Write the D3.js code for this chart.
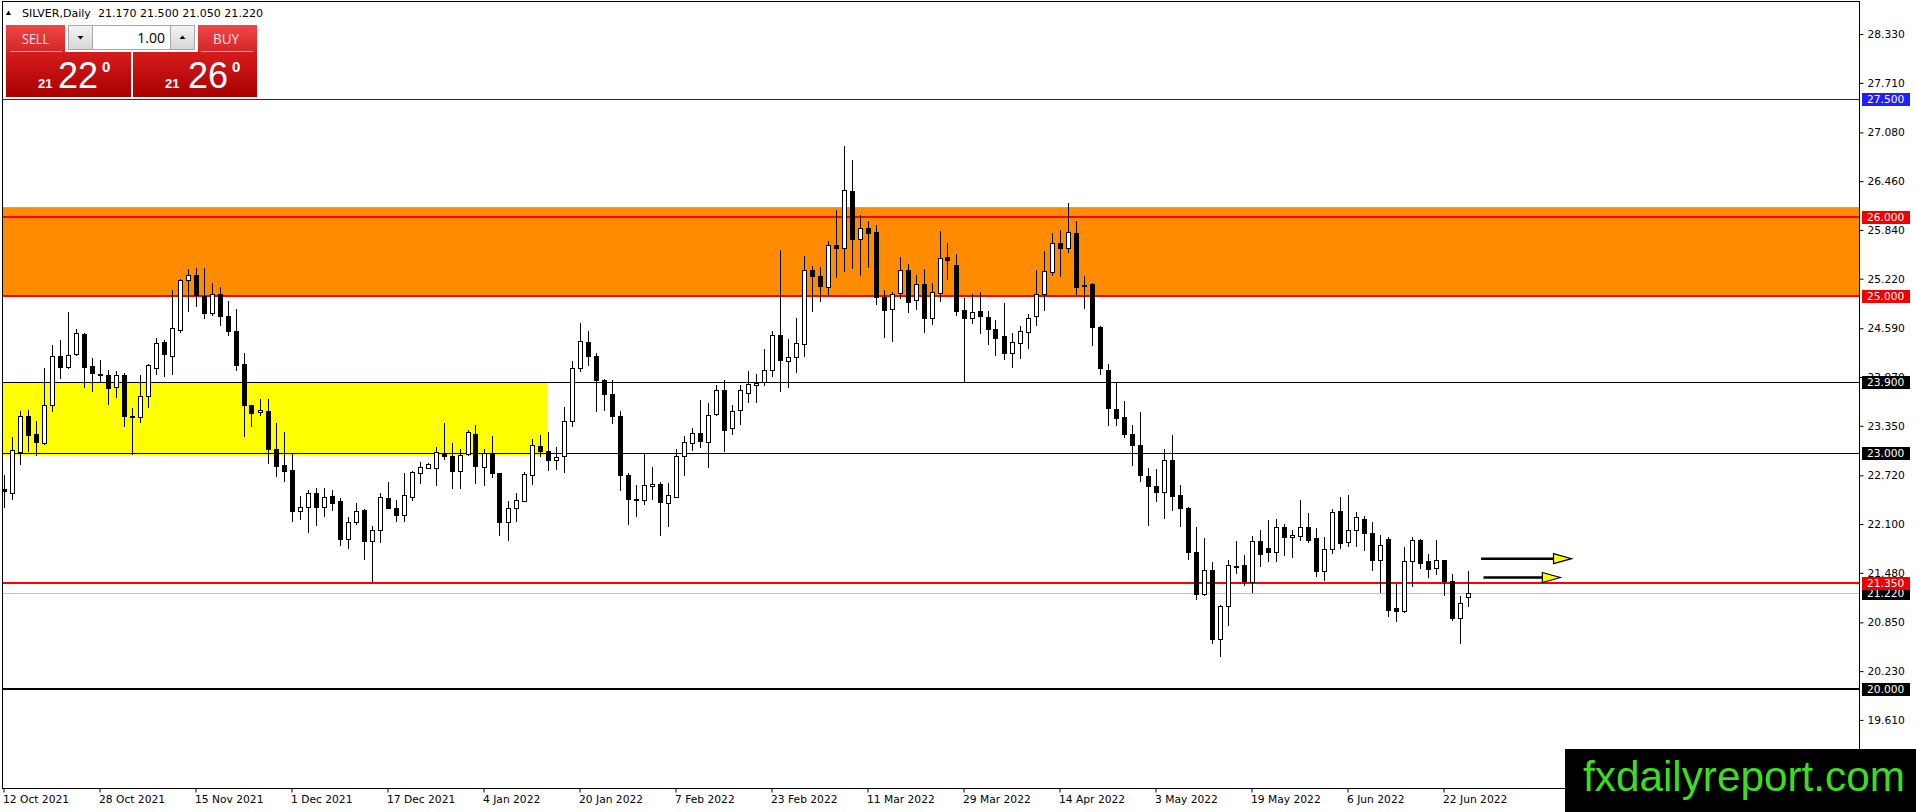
<!DOCTYPE html>
<html><head><meta charset="utf-8">
<script src="https://cdn.jsdelivr.net/npm/d3@7/dist/d3.min.js"></script>
<style>
html,body{margin:0;padding:0;background:#fff;overflow:hidden}
svg{display:block}
</style></head>
<body>
<svg id="c" width="1916" height="812"></svg>
<script>
// ---- data ----
const opens  = [22.55,22.50,23.02,23.47,23.25,23.13,23.61,24.24,24.10,24.26,24.52,24.11,24.01,24.00,23.84,23.99,23.47,23.46,23.73,24.09,24.41,24.24,24.57,25.20,25.27,25.00,24.78,25.02,24.75,24.56,24.13,23.61,23.52,23.54,23.06,22.85,22.79,22.26,22.32,22.49,22.32,22.46,22.39,21.91,22.12,22.28,21.88,22.02,22.43,22.30,22.22,22.45,22.75,22.81,22.81,23.00,22.97,22.78,22.99,23.25,22.83,23.00,22.75,22.13,22.30,22.39,22.72,23.09,23.03,22.91,22.97,23.41,24.08,24.42,24.24,23.93,23.75,23.47,22.72,22.42,22.41,22.58,22.61,22.37,22.45,22.96,23.13,23.26,23.14,23.50,23.80,23.32,23.55,23.77,23.87,23.90,24.06,24.50,24.17,24.23,24.39,25.33,25.25,25.12,25.65,25.61,26.34,25.73,25.86,25.81,24.99,24.83,25.04,25.33,24.95,25.15,24.72,25.04,25.49,25.39,24.82,24.72,24.81,24.73,24.58,24.49,24.28,24.40,24.54,24.75,25.03,25.30,25.68,25.61,25.80,25.14,25.15,24.61,24.06,23.56,23.46,23.24,23.11,22.71,22.59,22.51,22.92,22.47,22.30,21.75,21.21,21.52,20.64,21.06,21.57,21.58,21.36,21.89,21.80,21.74,22.06,21.93,21.95,22.06,21.92,21.50,21.78,22.27,21.87,22.03,22.17,21.99,21.64,21.91,21.03,20.99,21.63,21.90,21.63,21.54,21.64,21.38,20.90,21.17];
const highs  = [22.72,23.21,23.54,23.55,23.41,24.09,24.38,24.44,24.79,24.58,24.53,24.21,24.19,24.06,24.05,24.02,23.57,23.99,24.13,24.46,24.44,25.08,25.22,25.34,25.36,25.35,25.17,25.12,24.94,24.84,24.27,23.62,23.69,23.69,23.39,23.27,23.00,22.46,22.53,22.56,22.56,22.53,22.43,22.19,22.37,22.29,22.07,22.49,22.64,22.41,22.75,22.78,22.89,22.88,23.08,23.39,23.13,23.06,23.30,23.36,23.06,23.22,22.75,22.39,22.50,22.76,23.18,23.23,23.27,23.08,23.59,24.17,24.66,24.55,24.28,23.94,23.93,23.54,22.75,22.60,22.99,22.82,22.63,22.62,23.06,23.22,23.32,23.68,23.64,23.87,23.93,23.61,23.87,24.05,24.01,24.33,24.56,25.58,24.45,24.72,25.51,25.38,25.37,25.70,26.09,26.91,26.73,26.03,25.95,25.90,25.08,25.05,25.50,25.41,25.27,25.34,25.17,25.82,25.67,25.54,24.97,25.03,25.05,24.81,24.70,24.91,24.53,24.62,24.77,25.33,25.57,25.80,25.84,26.18,25.95,25.25,25.16,24.62,24.14,23.89,23.66,23.36,23.53,22.81,22.80,23.05,23.23,22.60,22.32,22.06,21.92,21.62,21.07,21.64,21.88,21.71,21.95,22.03,22.15,22.17,22.10,22.02,22.41,22.24,22.05,21.93,22.29,22.44,22.47,22.25,22.20,22.12,21.96,21.94,21.34,21.81,21.93,21.91,21.72,21.90,21.64,21.46,21.19,21.50];
const lows   = [22.30,22.41,22.85,23.02,22.96,23.11,23.52,23.95,24.07,24.24,23.83,23.78,23.91,23.61,23.70,23.33,22.98,23.39,23.57,23.99,23.97,23.99,24.53,24.79,24.86,24.71,24.75,24.62,24.49,24.05,23.21,23.34,23.47,22.86,22.70,22.63,22.13,22.15,21.98,22.07,22.19,22.26,21.82,21.78,22.09,21.64,21.36,21.86,22.29,22.13,22.12,22.39,22.61,22.80,22.59,22.91,22.54,22.54,22.96,22.61,22.59,22.68,21.95,21.89,22.13,22.38,22.60,22.95,22.77,22.79,22.75,23.33,24.03,24.11,23.52,23.54,23.37,22.52,22.09,22.19,22.34,22.41,21.95,22.06,22.45,22.71,23.03,23.07,22.81,23.47,23.02,23.23,23.36,23.64,23.64,23.85,23.97,23.78,23.83,24.02,24.23,24.80,24.92,25.01,25.23,25.30,25.34,25.26,25.36,24.88,24.47,24.41,24.96,24.78,24.82,24.53,24.63,24.92,25.20,24.74,23.91,24.65,24.52,24.38,24.24,24.18,24.08,24.20,24.32,24.62,24.81,25.25,25.24,25.55,25.01,24.84,24.37,24.00,23.35,23.35,23.19,22.84,22.63,22.07,22.38,22.16,22.27,22.06,21.64,21.13,21.19,20.58,20.41,20.80,21.47,21.31,21.22,21.56,21.62,21.62,21.69,21.67,21.88,21.86,21.43,21.38,21.72,21.78,21.81,21.81,21.76,21.50,21.22,20.92,20.85,20.97,21.30,21.53,21.42,21.45,21.19,20.87,20.57,21.05];
const closes = [22.52,23.04,23.47,23.23,23.14,23.61,24.24,24.10,24.25,24.53,24.10,24.02,24.00,23.83,23.99,23.47,23.46,23.73,24.12,24.40,24.26,24.59,25.20,25.27,25.01,24.78,25.03,24.74,24.56,24.12,23.61,23.51,23.55,23.06,22.84,22.78,22.27,22.32,22.49,22.32,22.44,22.37,21.91,22.13,22.27,21.88,22.03,22.44,22.30,22.21,22.47,22.76,22.82,22.87,23.01,22.96,22.78,22.98,23.27,22.84,23.00,22.75,22.13,22.31,22.41,22.74,23.10,23.03,22.91,22.95,23.41,24.08,24.43,24.24,23.93,23.75,23.47,22.72,22.42,22.41,22.60,22.61,22.38,22.47,22.97,23.14,23.26,23.15,23.49,23.80,23.30,23.54,23.80,23.88,23.89,24.06,24.50,24.19,24.22,24.40,25.33,25.25,25.13,25.65,25.61,26.35,25.72,25.86,25.80,24.99,24.82,25.03,25.33,24.92,25.15,24.72,25.05,25.48,25.46,24.81,24.72,24.80,24.74,24.58,24.47,24.27,24.41,24.55,24.72,25.03,25.32,25.68,25.61,25.81,25.12,25.13,24.60,24.08,23.57,23.45,23.25,23.10,22.72,22.59,22.51,22.92,22.46,22.30,21.74,21.21,21.52,20.64,21.06,21.58,21.56,21.37,21.88,21.72,21.74,22.06,21.93,21.96,22.06,21.90,21.50,21.78,22.25,21.86,22.03,22.19,21.99,21.64,21.84,21.01,21.00,21.63,21.90,21.61,21.53,21.64,21.37,20.90,21.09,21.22];

const dateTickIdx = [0,12,24,36,48,60,72,84,96,108,120,132,144,156,168,180];
const dateLabels  = ["12 Oct 2021","28 Oct 2021","15 Nov 2021","1 Dec 2021","17 Dec 2021","4 Jan 2022","20 Jan 2022","7 Feb 2022","23 Feb 2022","11 Mar 2022","29 Mar 2022","14 Apr 2022","3 May 2022","19 May 2022","6 Jun 2022","22 Jun 2022"];
const priceTicks  = [28.33,27.71,27.08,26.46,25.84,25.22,24.59,23.97,23.35,22.72,22.10,21.48,20.85,20.23,19.61];

// horizontal levels
const levelValues = [27.5, 26.0, 25.0, 23.9, 23.0, 21.22, 21.35, 20.0];
const levelColors = ["#1c1c9c","#ff0000","#ff0000","#000000","#000000","#c0c0c0","#ff0000","#000000"];
const levelWidths = [1, 2, 2, 1, 1, 1, 2, 2];
const levelBoxes  = ["#1f1fff","#f00000","#f00000","#000000","#000000","#000000","#f00000","#000000"];
// zones
const zoneLow  = [25.0, 22.97];
const zoneHigh = [26.13, 23.9];
const zoneEnd  = [232, 68.0];      // bar index where the zone ends
const zoneColors = ["#ff8c00","#ffff00"];
// arrows (bar index start/end, price)
const arrowStart = [184.7, 185.0];
const arrowEnd   = [196.0, 194.6];
const arrowPrice = [21.66, 21.42];

const header = "SILVER,Daily  21.170 21.500 21.050 21.220";

// ---- layout ----
const W = 1916, H = 812;
const plotL = 2, plotR = 1859, plotT = 2, plotB = 788;
const svg = d3.select("#c");
const FONT = "'DejaVu Sans', Verdana, sans-serif";

const x = d3.scaleLinear().domain([0, 232]).range([3.5, 3.5 + 8 * 232]);
const y = d3.scaleLinear().domain([18.744, 28.738]).range([plotB, plotT]);

svg.append("rect").attr("width", W).attr("height", H).attr("fill", "#fff");

svg.append("defs").append("clipPath").attr("id", "plotClip")
  .append("rect").attr("x", plotL + 0.5).attr("y", plotT).attr("width", plotR - plotL - 0.5).attr("height", plotB - plotT);

const plot = svg.append("g").attr("clip-path", "url(#plotClip)");

// zones
zoneLow.forEach((lo, i) => {
  plot.append("rect")
    .attr("x", plotL).attr("width", x(zoneEnd[i]) - plotL)
    .attr("y", y(zoneHigh[i])).attr("height", y(lo) - y(zoneHigh[i]))
    .attr("fill", zoneColors[i]);
});

// level lines
levelValues.forEach((v, i) => {
  const yy = levelWidths[i] === 1 ? Math.round(y(v)) + 0.5 : Math.round(y(v));
  plot.append("line").attr("x1", plotL).attr("x2", plotR).attr("y1", yy).attr("y2", yy)
    .attr("stroke", levelColors[i]).attr("stroke-width", levelWidths[i]);
});

// candles
const idx = d3.range(opens.length);
const cg = plot.append("g");
idx.forEach(k => {
  const cx = Math.round(x(k)) + 0.5;
  const o = opens[k], c = closes[k];
  cg.append("line").attr("x1", cx).attr("x2", cx)
    .attr("y1", Math.round(y(highs[k]))).attr("y2", Math.round(y(lows[k])))
    .attr("stroke", "#000").attr("stroke-width", 1);
  const top = Math.round(y(Math.max(o, c))), bot = Math.round(y(Math.min(o, c)));
  if (bot - top < 1) {
    cg.append("line").attr("x1", cx - 2.5).attr("x2", cx + 2.5)
      .attr("y1", top + 0.5).attr("y2", top + 0.5).attr("stroke", "#000");
  } else {
    cg.append("rect").attr("x", cx - 2).attr("width", 4)
      .attr("y", top + 0.5).attr("height", bot - top)
      .attr("fill", c >= o ? "#fff" : "#000").attr("stroke", "#000").attr("stroke-width", 1);
  }
});

// arrows
arrowPrice.forEach((p, i) => {
  const yy = y(p), x0 = x(arrowStart[i]), x1 = x(arrowEnd[i]);
  const headL = 18;
  plot.append("line").attr("x1", x0).attr("x2", x1 - headL + 1).attr("y1", yy).attr("y2", yy)
    .attr("stroke", "#000").attr("stroke-width", 2.5);
  plot.append("path")
    .attr("d", `M${x1 - headL},${yy - 5} L${x1},${yy} L${x1 - headL},${yy + 5} Z`)
    .attr("fill", "#ffff00").attr("stroke", "#000").attr("stroke-width", 1.2);
});

// frame
svg.append("rect").attr("x", plotL + 0.5).attr("y", plotT - 0.5).attr("width", plotR - plotL).attr("height", plotB - plotT + 1)
  .attr("fill", "none").attr("stroke", "#000").attr("stroke-width", 1);

// price axis
const yAxis = d3.axisRight(y).tickValues(priceTicks).tickFormat(d3.format(".3f")).tickSize(4).tickPadding(4);
const ya = svg.append("g").attr("transform", `translate(${plotR + 0.5},0)`).call(yAxis);
ya.select(".domain").remove();
ya.selectAll("text").attr("font-family", FONT).attr("font-size", "10.7px").attr("fill", "#000");
ya.selectAll("line").attr("stroke", "#000");

// date axis
const xAxis = d3.axisBottom(x).tickValues(dateTickIdx).tickFormat((d, i) => dateLabels[i]).tickSize(4).tickPadding(3);
const xa = svg.append("g").attr("transform", `translate(0,${plotB + 0.5})`).call(xAxis);
xa.select(".domain").remove();
xa.selectAll("text").attr("font-family", FONT).attr("font-size", "10.7px").attr("fill", "#000")
  .attr("text-anchor", "start").attr("dx", "-1");
xa.selectAll("line").attr("stroke", "#000");

// level labels on price axis
levelValues.forEach((v, i) => {
  const yy = y(v);
  const g = svg.append("g");
  g.append("rect").attr("x", plotR + 3).attr("y", Math.round(yy) - 6).attr("width", 48).attr("height", 13)
    .attr("fill", levelBoxes[i]);
  g.append("text").attr("x", plotR + 8).attr("y", Math.round(yy) + 4)
    .attr("font-family", FONT).attr("font-size", "10.7px").attr("fill", "#fff")
    .text(d3.format(".3f")(v));
});

// header
svg.append("path").attr("d", "M6,15 L11,15 L8.5,10.5 Z").attr("fill", "#000");
svg.append("text").attr("x", 22).attr("y", 17).attr("font-family", FONT).attr("font-size", "11px")
  .attr("textLength", 241).attr("lengthAdjust", "spacingAndGlyphs").attr("fill", "#000")
  .attr("xml:space", "preserve").style("white-space", "pre").text(header);

// one-click trading panel
const defs = svg.select("defs");
const g1 = defs.append("linearGradient").attr("id", "btnG").attr("x1", 0).attr("y1", 0).attr("x2", 0).attr("y2", 1);
g1.append("stop").attr("offset", 0).attr("stop-color", "#ee4646");
g1.append("stop").attr("offset", 1).attr("stop-color", "#d42626");
const g2 = defs.append("linearGradient").attr("id", "pxG").attr("x1", 0).attr("y1", 0).attr("x2", 0).attr("y2", 1);
g2.append("stop").attr("offset", 0).attr("stop-color", "#d61c1c");
g2.append("stop").attr("offset", 1).attr("stop-color", "#a80000");
const g3 = defs.append("linearGradient").attr("id", "grG").attr("x1", 0).attr("y1", 0).attr("x2", 0).attr("y2", 1);
g3.append("stop").attr("offset", 0).attr("stop-color", "#f4f4f4");
g3.append("stop").attr("offset", 1).attr("stop-color", "#d6d6d6");

const panel = svg.append("g");
// top buttons
panel.append("rect").attr("x", 6).attr("y", 25).attr("width", 59).attr("height", 27).attr("fill", "url(#btnG)");
panel.append("rect").attr("x", 198).attr("y", 25).attr("width", 59).attr("height", 27).attr("fill", "url(#btnG)");
panel.append("line").attr("x1", 10).attr("x2", 62).attr("y1", 51.5).attr("y2", 51.5).attr("stroke", "#f3a6a6");
panel.append("line").attr("x1", 201).attr("x2", 253).attr("y1", 51.5).attr("y2", 51.5).attr("stroke", "#f3a6a6");
panel.append("text").attr("x", 22).attr("y", 44).attr("font-family", "'Open Sans', 'DejaVu Sans', sans-serif")
  .attr("font-size", "14px").attr("fill", "#fde6e6").attr("textLength", 27).attr("lengthAdjust", "spacingAndGlyphs").text("SELL");
panel.append("text").attr("x", 213).attr("y", 44).attr("font-family", "'Open Sans', 'DejaVu Sans', sans-serif")
  .attr("font-size", "14px").attr("fill", "#fde6e6").attr("textLength", 26).attr("lengthAdjust", "spacingAndGlyphs").text("BUY");
// lot control
panel.append("rect").attr("x", 68.5).attr("y", 25.5).attr("width", 24).attr("height", 24).attr("fill", "url(#grG)").attr("stroke", "#a8a8a8");
panel.append("rect").attr("x", 92.5).attr("y", 25.5).attr("width", 78).attr("height", 24).attr("fill", "#fff").attr("stroke", "#a8a8a8");
panel.append("rect").attr("x", 170.5).attr("y", 25.5).attr("width", 24).attr("height", 24).attr("fill", "url(#grG)").attr("stroke", "#a8a8a8");
panel.append("path").attr("d", "M77.5,36 L83.5,36 L80.5,39.5 Z").attr("fill", "#000");
panel.append("path").attr("d", "M179.5,39 L185.5,39 L182.5,35.5 Z").attr("fill", "#000");
panel.append("text").attr("x", 165).attr("y", 43).attr("text-anchor", "end")
  .attr("font-family", "'Open Sans', 'DejaVu Sans', sans-serif").attr("font-size", "14px").attr("fill", "#000").text("1.00");
// price boxes
panel.append("rect").attr("x", 6).attr("y", 52).attr("width", 125).attr("height", 45).attr("fill", "url(#pxG)");
panel.append("rect").attr("x", 133).attr("y", 52).attr("width", 124).attr("height", 45).attr("fill", "url(#pxG)");
const pxFont = "'Liberation Sans', Arial, sans-serif";
[[38, 58, 102, "21", "22", "0"], [165, 188, 232, "21", "26", "0"]].forEach(p => {
  panel.append("text").attr("x", p[0]).attr("y", 88).attr("font-family", pxFont).attr("font-weight", "bold")
    .attr("font-size", "13px").attr("fill", "#fff").text(p[3]);
  panel.append("text").attr("x", p[1]).attr("y", 88).attr("font-family", pxFont)
    .attr("font-size", "36px").attr("fill", "#fff").text(p[4]);
  panel.append("text").attr("x", p[2]).attr("y", 72).attr("font-family", pxFont).attr("font-weight", "bold")
    .attr("font-size", "15px").attr("fill", "#fff").text(p[5]);
});

// watermark
svg.append("rect").attr("x", 1565).attr("y", 749).attr("width", W - 1565).attr("height", H - 749).attr("fill", "#000");
svg.append("text").attr("x", 1583).attr("y", 791).attr("font-family", "'Liberation Sans', Arial, sans-serif")
  .attr("font-size", "42px").attr("fill", "#3ddc1f").attr("textLength", 322).attr("lengthAdjust", "spacingAndGlyphs")
  .text("fxdailyreport.com");
</script>
</body></html>
